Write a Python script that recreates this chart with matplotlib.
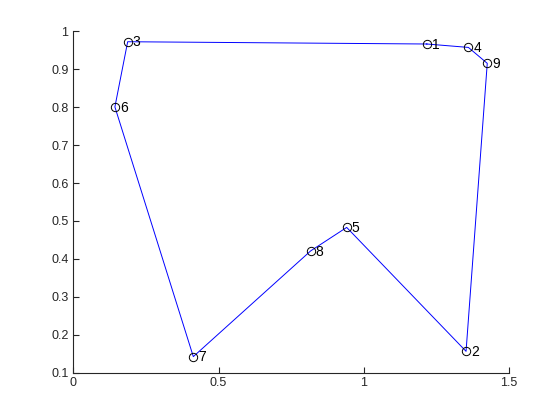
import matplotlib
matplotlib.use("Agg")
import matplotlib.pyplot as plt

labels = ["1", "2", "3", "4", "5", "6", "7", "8", "9"]
xs = [1.217, 1.352, 0.187, 1.360, 0.941, 0.143, 0.413, 0.817, 1.425]
ys = [0.967, 0.156, 0.973, 0.958, 0.483, 0.801, 0.142, 0.421, 0.916]
route = [1, 4, 9, 2, 5, 8, 7, 6, 3, 1]
xticks = [0, 0.5, 1, 1.5]
yticks = [0.1, 0.2, 0.3, 0.4, 0.5, 0.6, 0.7, 0.8, 0.9, 1]

plt.rcParams['font.family'] = ['Liberation Sans', 'DejaVu Sans']
fig = plt.figure(figsize=(5.6, 4.2), dpi=100)
ax = fig.add_axes([0.131, 0.113, 0.778, 0.812])

rx = [xs[i - 1] for i in route]
ry = [ys[i - 1] for i in route]
ax.plot(rx, ry, color='blue', linewidth=0.7)
ax.plot(xs, ys, 'o', markerfacecolor='none', markeredgecolor='black',
        markersize=6, markeredgewidth=0.7)
for lab, x, y in zip(labels, xs, ys):
    ax.annotate(lab, (x, y), xytext=(3.5, -0.5), textcoords='offset points',
                ha='left', va='center', fontsize=10, color='black')

ax.set_xlim(0, 1.5)
ax.set_ylim(0.1, 1)
ax.set_xticks(xticks)
ax.set_xticklabels(['0', '0.5', '1', '1.5'])
ax.set_yticks(yticks)
ax.set_yticklabels(['0.1', '0.2', '0.3', '0.4', '0.5', '0.6', '0.7', '0.8', '0.9', '1'])
for s in ['top', 'right']:
    ax.spines[s].set_visible(False)
for s in ['left', 'bottom']:
    ax.spines[s].set_color('#262626')
    ax.spines[s].set_linewidth(0.8)
ax.tick_params(direction='in', length=4, width=0.8, colors='#262626',
               labelsize=9, labelcolor='#262626')
fig.savefig('out.png', dpi=100)
